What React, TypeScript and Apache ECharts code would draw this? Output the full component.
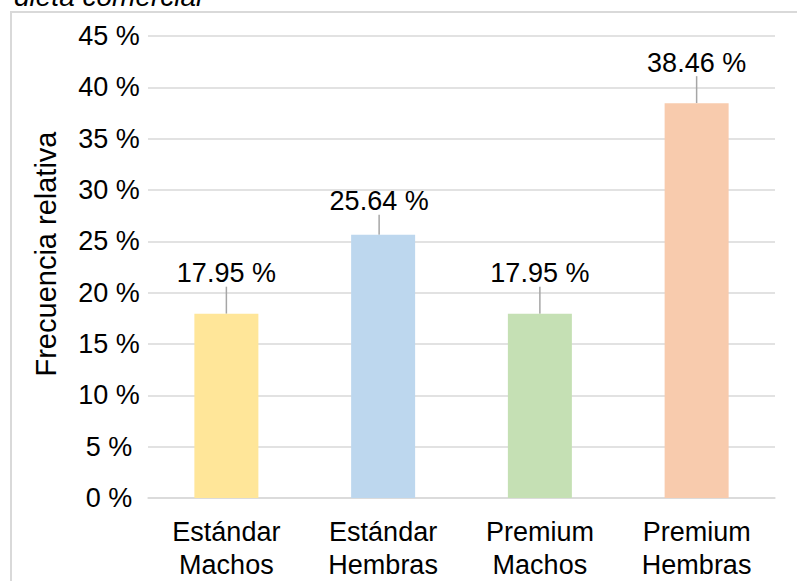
import React, { useEffect, useRef } from "react";
import * as echarts from "echarts";

const categories = ["Estándar\nMachos", "Estándar\nHembras", "Premium\nMachos", "Premium\nHembras"];
const values = [17.95, 25.64, 17.95, 38.46];
const barColors = ["#FFE699", "#BDD7EE", "#C5E0B4", "#F8CBAD"];
const yAxisName = "Frecuencia relativa";
const titleFragment = "dieta comercial";

const FONT = "'Liberation Sans', Arial, sans-serif";

export default function App() {
  const ref = useRef<HTMLDivElement>(null);
  useEffect(() => {
    if (!ref.current) return;
    const chart = echarts.init(ref.current, null, { renderer: "svg" });
    chart.setOption({
      animation: false,
      backgroundColor: "#ffffff",
      textStyle: { fontFamily: FONT },
      graphic: [
        {
          type: "rect",
          z: -10,
          shape: { x: 11, y: 12, width: 820, height: 620 },
          style: { fill: "#ffffff", stroke: "#d9d9d9", lineWidth: 2 },
          silent: true,
        },
        {
          type: "text",
          x: 14,
          y: -4,
          style: {
            text: titleFragment,
            font: `italic 28px ${FONT}`,
            fill: "#000000",
            verticalAlign: "middle",
            align: "left",
          },
        },
        {
          type: "text",
          x: 46,
          y: 254,
          rotation: Math.PI / 2,
          style: {
            text: yAxisName,
            font: `29px ${FONT}`,
            fill: "#000000",
            verticalAlign: "middle",
            align: "center",
          },
        },
      ],
      grid: { left: 148, right: 22, top: 36, bottom: 83, containLabel: false },
      xAxis: {
        type: "category",
        data: categories,
        axisLine: { show: true, lineStyle: { color: "#d9d9d9", width: 1.5 } },
        axisTick: { show: false },
        axisLabel: {
          color: "#000000",
          fontSize: 27,
          fontFamily: FONT,
          lineHeight: 33,
          margin: 17,
          interval: 0,
        },
      },
      yAxis: {
        type: "value",
        min: 0,
        max: 45,
        interval: 5,
        axisLine: { show: false },
        axisTick: { show: false },
        splitLine: { show: true, lineStyle: { color: "#d9d9d9", width: 1.5 } },
        axisLabel: {
          color: "#000000",
          fontSize: 27,
          fontFamily: FONT,
          align: "center",
          margin: 39,
          formatter: "{value} %",
        },
      },
      series: [
        {
          type: "bar",
          barWidth: 64,
          data: values.map((v, i) => ({
            value: v,
            itemStyle: { color: barColors[i] },
            label: { distance: i === 1 ? 20 : 27 },
          })),
          label: {
            show: true,
            position: "top",
            distance: 27,
            color: "#000000",
            fontSize: 27,
            fontFamily: FONT,
            formatter: (p: any) => `${p.value.toFixed(2)} %`,
          },
          labelLine: { show: true, lineStyle: { color: "#a6a6a6", width: 1.5 } },
          labelLayout: (p: any) => ({ dx: p.dataIndex === 1 ? -4 : 0 }),
        },
      ],
    });
    return () => chart.dispose();
  }, []);
  return (
    <div
      ref={ref}
      style={{ position: "fixed", left: 0, top: 0, width: 797, height: 581 }}
    />
  );
}
